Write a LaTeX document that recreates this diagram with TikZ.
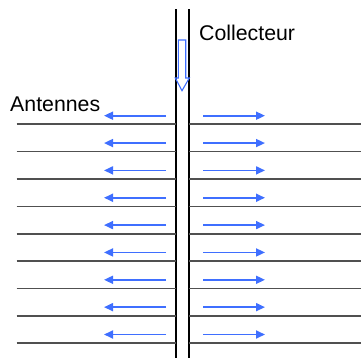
\documentclass[tikz,border=0pt]{standalone}
\usepackage{fontspec}
\setmainfont{Liberation Sans}
\usetikzlibrary{arrows.meta}
\definecolor{flowblue}{HTML}{3F6FFF}
\definecolor{rodgray}{HTML}{505050}
\tikzset{
  pipe/.style={line width=1.3pt, black},
  antenna/.style={line width=1.7pt, rodgray},
  flow/.style={line width=1.7pt, flowblue, -{Triangle[length=9pt,width=8pt]}},
  hollowarrow/.style={line width=1.1pt, flowblue, line join=miter},
  label/.style={inner sep=0pt, anchor=base west, font=\fontsize{21.3}{25}\selectfont}
}
\begin{document}
\begin{tikzpicture}[x=1pt,y=-1pt]
\useasboundingbox (0,0) rectangle (361,358);
% collector pipe walls
\coordinate (pl-top) at (176,9.5);
\coordinate (pl-bot) at (176,358);
\coordinate (pr-top) at (189,9.5);
\coordinate (pr-bot) at (189,358);
\draw[pipe] (pl-top) -- (pl-bot);
\draw[pipe] (pr-top) -- (pr-bot);
% antennas with outward flow arrows
\foreach \k in {0,...,8}{
  \pgfmathsetmacro{\yy}{124.3+27.35*\k}
  \pgfmathsetmacro{\ya}{\yy-8.6}
  \coordinate (aL\k) at (16.7,\yy);
  \coordinate (aLe\k) at (176,\yy);
  \coordinate (aR\k) at (189,\yy);
  \coordinate (aRe\k) at (361,\yy);
  \draw[antenna] (aL\k) -- (aLe\k);
  \draw[antenna] (aR\k) -- (aRe\k);
  \coordinate (fL0\k) at (166,\ya);
  \coordinate (fL1\k) at (104,\ya);
  \coordinate (fR0\k) at (203,\ya);
  \coordinate (fR1\k) at (265,\ya);
  \draw[flow] (fL0\k) -- (fL1\k);
  \draw[flow] (fR0\k) -- (fR1\k);
}
% hollow arrow down the collector
\draw[hollowarrow] (178.3,40) -- (185.7,40) -- (185.7,78) -- (189.3,78)
  -- (182,90.7) -- (175.3,78) -- (178.3,78) -- cycle;
% labels
\node[label] (collecteur) at (199,41) {Collecteur};
\node[label] (antennes) at (10,112) {Antennes};
\end{tikzpicture}
\end{document}
